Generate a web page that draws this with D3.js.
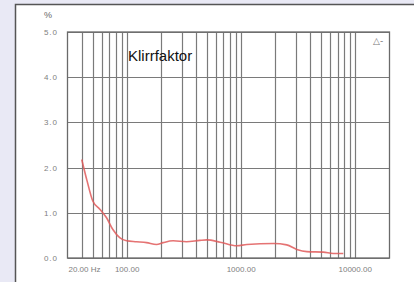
<!DOCTYPE html>
<html>
<head>
<meta charset="utf-8">
<script src="https://cdn.jsdelivr.net/npm/d3@7"></script>
<style>
  body { margin: 0; background: #e9e9f5; }
  svg { display: block; }
</style>
</head>
<body>
<svg id="chart" width="414" height="282"></svg>
<script>
// data
var freqs = [40, 44.6, 50, 57.6, 66, 75, 86, 99, 121, 148, 181, 207, 253, 331, 434, 500, 654, 917, 1122, 1925, 2510, 3070, 3770, 5250, 6430, 7870];
var thd = [2.18, 1.70, 1.26, 1.08, 0.89, 0.63, 0.45, 0.38, 0.36, 0.34, 0.30, 0.34, 0.38, 0.36, 0.39, 0.40, 0.35, 0.27, 0.30, 0.32, 0.29, 0.19, 0.14, 0.13, 0.10, 0.10];
var yTicks = [0, 1, 2, 3, 4, 5];
var yTickLabels = ["0.0", "1.0", "2.0", "3.0", "4.0", "5.0"];
var xGrid = [40, 50, 60, 70, 80, 90, 100, 200, 300, 400, 500, 600, 700, 800, 900, 1000,
             2000, 3000, 4000, 5000, 6000, 7000, 8000, 9000, 10000];
var xTicks = [30, 100, 1000, 10000];
var xTickLabels = ["20.00 Hz", "100.00", "1000.00", "10000.00"];

var svg = d3.select("#chart");

// white panel with dark frame on left/top
svg.append("rect").attr("x", 15).attr("y", 4).attr("width", 399).attr("height", 278).attr("fill", "#fff");
svg.append("path").attr("d", "M15.5,282V4.5H414").attr("fill", "none").attr("stroke", "#555").attr("stroke-width", 1.5);

var x = d3.scaleLog().domain([30, 20000]).range([67.5, 389.5]);
var y = d3.scaleLinear().domain([0, 5]).range([258, 32]);

var grid = svg.append("g").attr("stroke", "#7a7a7a").attr("stroke-width", 1.2);

grid.selectAll("line.v").data(xGrid).enter().append("line")
  .attr("x1", function(d){ return Math.round(x(d)) + 0.5; })
  .attr("x2", function(d){ return Math.round(x(d)) + 0.5; })
  .attr("y1", y(5)).attr("y2", y(0));

grid.selectAll("line.h").data(yTicks).enter().append("line")
  .attr("x1", x(30)).attr("x2", x(20000))
  .attr("y1", function(d){ return Math.round(y(d)) + 0.5; })
  .attr("y2", function(d){ return Math.round(y(d)) + 0.5; });

// frame of the plot
svg.append("rect")
  .attr("x", x(30)).attr("y", y(5)).attr("width", x(20000) - x(30)).attr("height", y(0) - y(5))
  .attr("fill", "none").attr("stroke", "#6a6a6a").attr("stroke-width", 1.3);

// y tick labels
svg.selectAll("text.yl").data(yTicks).enter().append("text")
  .attr("x", 58).attr("y", function(d){ return y(d) + 3; })
  .attr("text-anchor", "end")
  .attr("font-family", "Liberation Sans, Arial, sans-serif")
  .attr("font-size", 8).attr("fill", "#808080")
  .attr("letter-spacing", 1)
  .text(function(d, i){ return yTickLabels[i]; });

svg.append("text").attr("x", 44).attr("y", 18)
  .attr("font-family", "Liberation Sans, Arial, sans-serif")
  .attr("font-size", 9).attr("fill", "#666").text("%");

// x tick labels
svg.selectAll("text.xl").data(xTicks).enter().append("text")
  .attr("x", function(d, i){ return i === 0 ? x(d) + 1 : x(d); })
  .attr("y", 272)
  .attr("text-anchor", function(d, i){ return i === 0 ? "start" : "middle"; })
  .attr("font-family", "Liberation Sans, Arial, sans-serif")
  .attr("font-size", 8).attr("fill", "#808080")
  .text(function(d, i){ return xTickLabels[i]; });

// title
svg.append("text").attr("x", 128).attr("y", 61)
  .attr("font-family", "Liberation Sans, Arial, sans-serif")
  .attr("font-size", 15).attr("fill", "#111")
  .text("Klirrfaktor");

// small marker in the top right corner
svg.append("text").attr("x", 373).attr("y", 44)
  .attr("font-family", "DejaVu Sans, sans-serif")
  .attr("font-size", 9).attr("fill", "#777")
  .text("\u25B3-");

// curve
var line = d3.line()
  .x(function(d){ return x(d[0]); })
  .y(function(d){ return y(d[1]); })
  .curve(d3.curveMonotoneX);

svg.append("path")
  .datum(d3.zip(freqs, thd))
  .attr("d", line)
  .attr("fill", "none")
  .attr("stroke", "#e05a5a")
  .attr("stroke-width", 1.6)
  .attr("opacity", 0.85);
</script>
</body>
</html>
